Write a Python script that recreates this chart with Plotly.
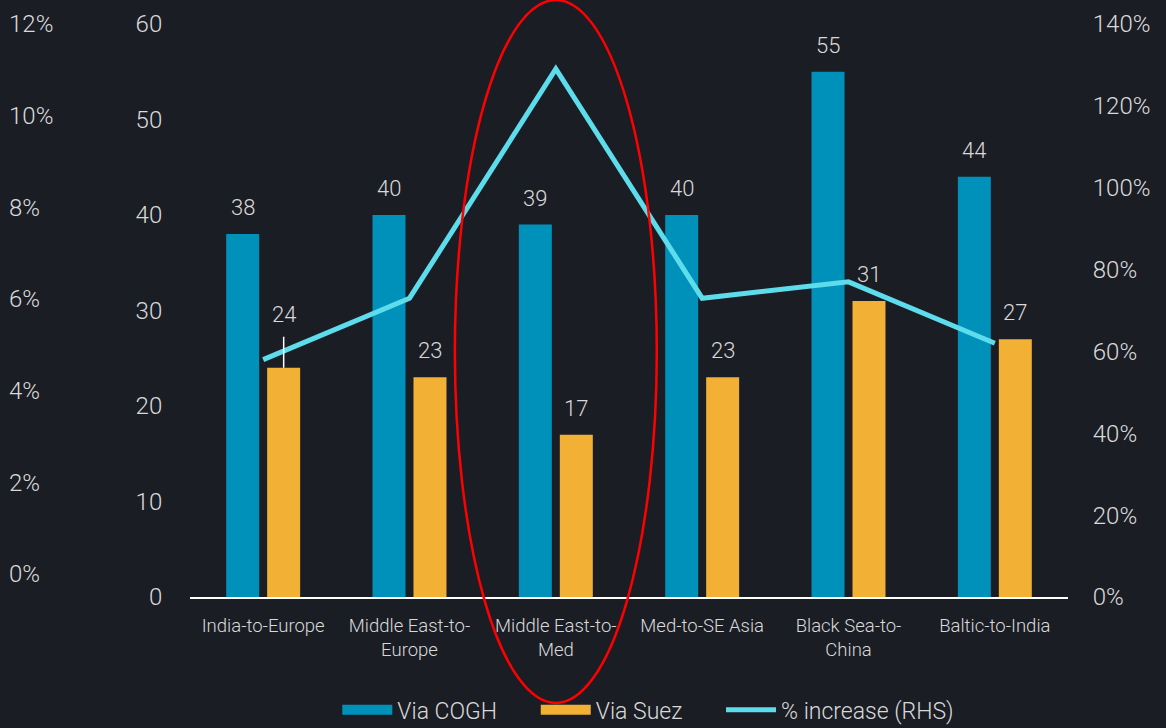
import plotly.graph_objects as go

categories = ["India-to-Europe", "Middle East-to-<br>Europe", "Middle East-to-<br>Med",
              "Med-to-SE Asia", "Black Sea-to-<br>China", "Baltic-to-India"]
via_cogh = [38, 40, 39, 40, 55, 44]
via_suez = [24, 23, 17, 23, 31, 27]
pct_increase = [58, 73, 129, 73, 77, 62]
left_ticks = [0, 10, 20, 30, 40, 50, 60]
right_ticks = [0, 20, 40, 60, 80, 100, 120, 140]
outer_ticks = [0, 2, 4, 6, 8, 10, 12]

BG = "#1b1d25"
TXT = "#d9d9d9"
BLUE = "#0091bb"
ORANGE = "#f2b134"
CYAN = "#5ddcec"
FONT = "Roboto"
PAD = "\u00a0" * 6

fig = go.Figure()
fig.add_trace(go.Bar(x=categories, y=via_cogh, name="Via COGH", marker=dict(color=BLUE, line=dict(width=0)),
                     yaxis="y", showlegend=False))
fig.add_trace(go.Bar(x=categories, y=via_suez, name="Via Suez", marker=dict(color=ORANGE, line=dict(width=0)),
                     yaxis="y", showlegend=False))
# legend entries for the bars (wide rectangular swatches)
fig.add_trace(go.Scatter(x=[categories[0]], y=[None], name="Via COGH" + PAD, mode="lines",
                         line=dict(color=BLUE, width=16), yaxis="y", hoverinfo="skip"))
fig.add_trace(go.Scatter(x=[categories[0]], y=[None], name="Via Suez" + PAD, mode="lines",
                         line=dict(color=ORANGE, width=16), yaxis="y", hoverinfo="skip"))
fig.add_trace(go.Scatter(x=categories, y=pct_increase, name="% increase (RHS)", mode="lines",
                         line=dict(color=CYAN, width=5), yaxis="y2"))
# empty outer axis trace
fig.add_trace(go.Scatter(x=[categories[0]], y=[None], yaxis="y3", showlegend=False, hoverinfo="skip"))

lab_font = dict(family=FONT, size=22, color=TXT, weight=300)
annotations = []
for i, c in enumerate(categories):
    annotations.append(dict(x=c, y=via_cogh[i], xref="x", yref="y", text=str(via_cogh[i]),
                            showarrow=False, xshift=-20.5, yshift=12, yanchor="bottom", font=lab_font))
    if i == 0:
        annotations.append(dict(x=c, y=via_suez[i], xref="x", yref="y", text=str(via_suez[i]),
                                showarrow=True, arrowhead=0, arrowwidth=1.5, arrowcolor="#ffffff",
                                ax=0, ay=-53, xshift=20.5, standoff=0, startstandoff=8, font=lab_font))
    else:
        annotations.append(dict(x=c, y=via_suez[i], xref="x", yref="y", text=str(via_suez[i]),
                                showarrow=False, xshift=20.5, yshift=12, yanchor="bottom", font=lab_font))

tick_font = dict(family=FONT, size=24, color=TXT, weight=300)

fig.update_layout(
    width=1166, height=728,
    paper_bgcolor=BG, plot_bgcolor=BG,
    margin=dict(l=8, r=98, t=24, b=131, autoexpand=False),
    font=dict(family=FONT, color=TXT, size=22, weight=300),
    barmode="group", bargap=0.44, bargroupgap=0.195,
    showlegend=True,
    legend=dict(orientation="h", xref="container", yref="container", x=0.556, xanchor="center",
                y=0.025, yanchor="middle",
                font=dict(family=FONT, size=23, color=TXT, weight=300), bgcolor="rgba(0,0,0,0)",
                traceorder="normal", itemwidth=50),
    xaxis=dict(domain=[0.1717, 1], showgrid=False, showline=True, linecolor="#ffffff", linewidth=2,
               ticks="outside", ticklen=11, tickcolor=BG, automargin=False,
               tickfont=dict(family=FONT, size=18.5, color=TXT, weight=300), zeroline=False),
    yaxis=dict(range=[0, 60], tickvals=left_ticks, ticktext=[str(v) for v in left_ticks],
               showgrid=False, zeroline=False, showline=False, automargin=False,
               ticks="outside", ticklen=22, tickcolor=BG, tickfont=tick_font),
    yaxis2=dict(range=[0, 140], tickvals=right_ticks, ticktext=[f"{v}%" for v in right_ticks],
                overlaying="y", side="right", anchor="x", showgrid=False, zeroline=False, showline=False,
                ticks="outside", ticklen=19, tickcolor=BG, tickfont=tick_font, automargin=False),
    yaxis3=dict(range=[-0.504, 12], tickvals=outer_ticks, ticktext=[f"{v}%" for v in outer_ticks],
                overlaying="y", side="right", anchor="free", position=0, showgrid=False, automargin=False,
                zeroline=False, showline=False, ticks="", tickfont=tick_font),
    annotations=annotations,
    shapes=[dict(type="circle", xref="x", yref="paper", x0=2 - 0.69, x1=2 + 0.69, y0=-0.185, y1=1.042,
                 line=dict(color="#ff0000", width=2.5), layer="above")],
)

fig.write_html("out.html", config={"displayModeBar": False},
               post_script="document.body.style.margin='0';document.body.style.overflow='hidden';")
